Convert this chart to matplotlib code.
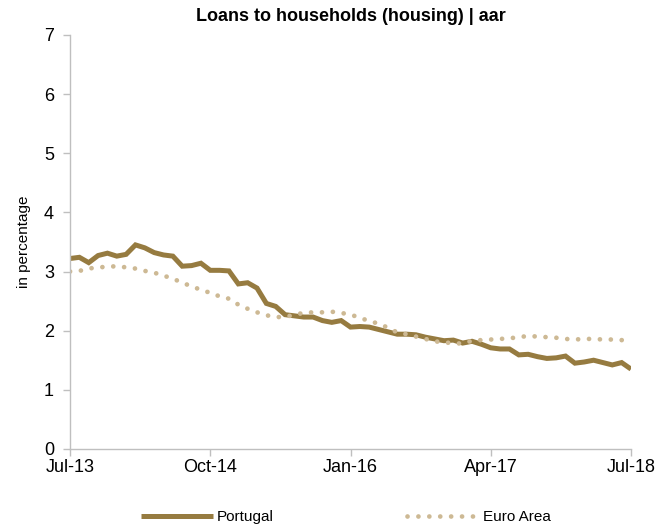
import pandas as pd
import matplotlib.pyplot as plt

# monthly series, Jul-13 .. Jul-18 (annual rate of change, %)
months = pd.date_range('2013-07-01', '2018-07-01', freq='MS')

portugal = [3.22, 3.24, 3.15, 3.27, 3.31, 3.26, 3.29, 3.45, 3.40, 3.32,
            3.28, 3.26, 3.09, 3.10, 3.14, 3.02, 3.02, 3.01, 2.79, 2.81,
            2.72, 2.46, 2.41, 2.27, 2.25, 2.23, 2.23, 2.17, 2.14, 2.17,
            2.06, 2.07, 2.06, 2.02, 1.98, 1.94, 1.94, 1.93, 1.89, 1.86,
            1.83, 1.84, 1.79, 1.82, 1.77, 1.71, 1.69, 1.69, 1.59, 1.60,
            1.56, 1.53, 1.54, 1.57, 1.45, 1.47, 1.50, 1.46, 1.42, 1.46,
            1.35]

euro_area = [3.00, 3.01, 3.05, 3.07, 3.08, 3.09, 3.07, 3.05, 3.01, 2.98,
             2.93, 2.88, 2.81, 2.75, 2.69, 2.64, 2.58, 2.54, 2.44, 2.37,
             2.31, 2.26, 2.23, 2.23, 2.27, 2.30, 2.31, 2.31, 2.32, 2.30,
             2.27, 2.22, 2.16, 2.12, 2.05, 1.97, 1.94, 1.90, 1.86, 1.82,
             1.80, 1.79, 1.78, 1.83, 1.84, 1.85, 1.86, 1.87, 1.89, 1.91,
             1.90, 1.89, 1.88, 1.86, 1.85, 1.86, 1.86, 1.85, 1.85, 1.84,
             1.83]

tick_labels = ['Jul-13', 'Oct-14', 'Jan-16', 'Apr-17', 'Jul-18']

plt.rcParams['font.family'] = ['Liberation Sans Narrow', 'Liberation Sans', 'DejaVu Sans']

x = list(range(len(months)))

fig = plt.figure(figsize=(6.67, 5.30), dpi=100)
ax = fig.add_axes([0.105, 0.153, 0.841, 0.781])

ax.plot(x, portugal, color='#967B40', lw=3.6, solid_capstyle='butt',
        solid_joinstyle='miter', label='Portugal')
ax.plot(x, euro_area, color='#CDB994', lw=3.4, linestyle=(0, (0.01, 2.3)),
        dash_capstyle='round', label='Euro Area')

ax.set_xlim(0, len(months) - 1)
ax.set_ylim(0, 7)
ax.set_xticks(range(0, len(months), 15))
ax.set_xticklabels(tick_labels)
ax.set_yticks(range(0, 8))

for s in ['top', 'right']:
    ax.spines[s].set_visible(False)
for s in ['left', 'bottom']:
    ax.spines[s].set_color('#BFBFBF')
    ax.spines[s].set_linewidth(1.0)
ax.tick_params(axis='both', colors='#BFBFBF', labelcolor='black',
               labelsize=13, length=5, width=1.0)
ax.tick_params(axis='x', pad=2)
ax.tick_params(axis='y', pad=6.5)

ax.set_ylabel('in percentage', fontsize=11, labelpad=9)
ax.set_title('Loans to households (housing) | aar', fontsize=13,
             fontweight='bold', pad=10)

ax.legend(loc='upper center', bbox_to_anchor=(0.492, -0.115), ncol=2,
          frameon=False, fontsize=11, handlelength=4.7, columnspacing=8.7,
          handletextpad=0.3)

fig.savefig('out.png', dpi=100)
